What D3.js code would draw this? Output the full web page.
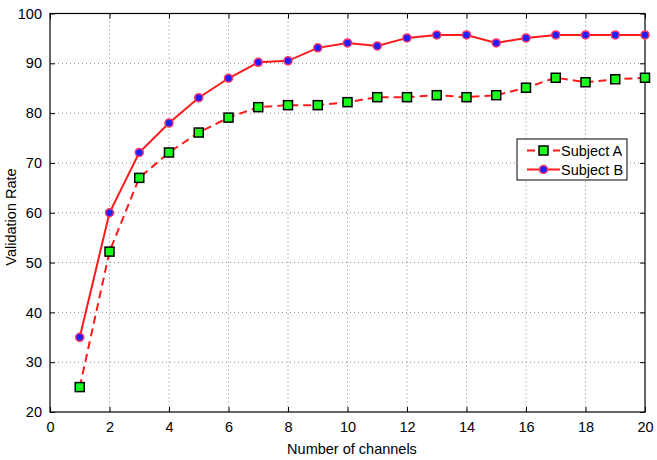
<!DOCTYPE html>
<html>
<head>
<meta charset="utf-8">
<script src="https://cdn.jsdelivr.net/npm/d3@7"></script>
<style>
  body { margin: 0; background: #fff; }
  text { font-family: "Liberation Sans", Arial, sans-serif; }
</style>
</head>
<body>
<div id="chart"></div>
<script>
// ---------- data
const channels = [1,2,3,4,5,6,7,8,9,10,11,12,13,14,15,16,17,18,19,20]
const subjectA = [25,52.2,67,72.1,76.1,79.1,81.2,81.6,81.6,82.2,83.2,83.2,83.6,83.2,83.6,85.1,87.1,86.2,86.8,87.1]
const subjectB = [35,60,72.1,78,83.1,87,90.2,90.5,93.1,94.1,93.5,95.1,95.7,95.7,94.1,95.1,95.7,95.7,95.7,95.7]
const xTicks = [0,2,4,6,8,10,12,14,16,18,20]
const yTicks = [20,30,40,50,60,70,80,90,100]
const seriesNames = ["Subject A","Subject B"]

// ---------- dimensions
const dims = {
    width: 657,
    height: 460,
    margin: { top: 13.5, right: 12, bottom: 48, left: 50 }
}
dims.boundedWidth = dims.width - dims.margin.left - dims.margin.right
dims.boundedHeight = dims.height - dims.margin.top - dims.margin.bottom

const svg = d3.select("#chart").append("svg")
    .attr("width", dims.width)
    .attr("height", dims.height)

const bounds = svg.append("g")
    .attr("transform", `translate(${dims.margin.left},${dims.margin.top})`)

// ---------- scales
const xScale = d3.scaleLinear().domain([0, 20]).range([0, dims.boundedWidth])
const yScale = d3.scaleLinear().domain([20, 100]).range([dims.boundedHeight, 0])

// ---------- grid
const grid = bounds.append("g")
grid.selectAll(".vgrid")
    .data(xTicks.slice(1, -1))
    .join("line")
    .attr("x1", d => xScale(d)).attr("x2", d => xScale(d))
    .attr("y1", 0).attr("y2", dims.boundedHeight)
    .attr("stroke", "#888").attr("stroke-width", 1)
    .attr("stroke-dasharray", "1,3")
grid.selectAll(".hgrid")
    .data(yTicks.slice(1, -1))
    .join("line")
    .attr("y1", d => yScale(d)).attr("y2", d => yScale(d))
    .attr("x1", 0).attr("x2", dims.boundedWidth)
    .attr("stroke", "#888").attr("stroke-width", 1)
    .attr("stroke-dasharray", "1,3")

// ---------- axes (matlab style, ticks inward on all sides)
const styleAxis = g => {
    g.select(".domain").remove()
    g.selectAll("line").attr("stroke", "#000")
    g.selectAll("text")
        .attr("fill", "#000")
        .style("font-size", "14.5px")
}
bounds.append("g")
    .attr("transform", `translate(0,${dims.boundedHeight})`)
    .call(d3.axisBottom(xScale).tickValues(xTicks).tickSizeInner(-5).tickSizeOuter(0).tickPadding(10))
    .call(styleAxis)
bounds.append("g")
    .call(d3.axisTop(xScale).tickValues(xTicks).tickSizeInner(-5).tickSizeOuter(0).tickFormat(""))
    .call(styleAxis)
bounds.append("g")
    .call(d3.axisLeft(yScale).tickValues(yTicks).tickSizeInner(-5).tickSizeOuter(0).tickPadding(8))
    .call(styleAxis)
bounds.append("g")
    .attr("transform", `translate(${dims.boundedWidth},0)`)
    .call(d3.axisRight(yScale).tickValues(yTicks).tickSizeInner(-5).tickSizeOuter(0).tickFormat(""))
    .call(styleAxis)

bounds.append("rect")
    .attr("width", dims.boundedWidth)
    .attr("height", dims.boundedHeight)
    .attr("fill", "none")
    .attr("stroke", "#000")
    .attr("stroke-width", 1.2)

// ---------- labels
svg.append("text")
    .attr("x", 352)
    .attr("y", 454)
    .attr("text-anchor", "middle")
    .style("font-size", "14.5px")
    .text("Number of channels")
svg.append("text")
    .attr("transform", `translate(16,217) rotate(-90)`)
    .attr("text-anchor", "middle")
    .style("font-size", "14.5px")
    .text("Validation Rate")

// ---------- lines
const lineA = channels.map((c, i) => ({ x: c, y: subjectA[i] }))
const lineB = channels.map((c, i) => ({ x: c, y: subjectB[i] }))
const lineGen = d3.line().x(d => xScale(d.x)).y(d => yScale(d.y))

bounds.append("path")
    .attr("d", lineGen(lineA))
    .attr("fill", "none")
    .attr("stroke", "#ff1a1a")
    .attr("stroke-width", 2)
    .attr("stroke-dasharray", "8,5")
bounds.append("path")
    .attr("d", lineGen(lineB))
    .attr("fill", "none")
    .attr("stroke", "#ff1a1a")
    .attr("stroke-width", 2)

bounds.selectAll(".sqA")
    .data(lineA)
    .join("rect")
    .attr("x", d => xScale(d.x) - 4.5)
    .attr("y", d => yScale(d.y) - 4.5)
    .attr("width", 9).attr("height", 9)
    .attr("fill", "#1aff1a")
    .attr("stroke", "#000")
    .attr("stroke-width", 1.5)
bounds.selectAll(".dotB")
    .data(lineB)
    .join("circle")
    .attr("cx", d => xScale(d.x))
    .attr("cy", d => yScale(d.y))
    .attr("r", 4)
    .attr("fill", "#2020ff")
    .attr("stroke", "#ff3366")
    .attr("stroke-width", 1.5)

// ---------- legend
const legend = svg.append("g").attr("transform", "translate(517,139)")
legend.append("rect")
    .attr("width", 110).attr("height", 41)
    .attr("fill", "#fff")
    .attr("stroke", "#000")
    .attr("stroke-width", 1)
const rows = legend.selectAll(".row")
    .data(seriesNames)
    .join("g")
    .attr("transform", (d, i) => `translate(0,${11.5 + i * 19})`)
rows.append("line")
    .attr("x1", 10).attr("x2", 43)
    .attr("stroke", "#ff1a1a").attr("stroke-width", 2)
    .attr("stroke-dasharray", (d, i) => i === 0 ? "8,5" : null)
rows.filter((d, i) => i === 0).append("rect")
    .attr("x", 22).attr("y", -4.5).attr("width", 9).attr("height", 9)
    .attr("fill", "#1aff1a").attr("stroke", "#000").attr("stroke-width", 1.5)
rows.filter((d, i) => i === 1).append("circle")
    .attr("cx", 26.5).attr("r", 4)
    .attr("fill", "#2020ff").attr("stroke", "#ff3366").attr("stroke-width", 1.5)
rows.append("text")
    .attr("x", 44).attr("y", 5)
    .style("font-size", "14.5px")
    .text(d => d)
</script>
</body>
</html>
